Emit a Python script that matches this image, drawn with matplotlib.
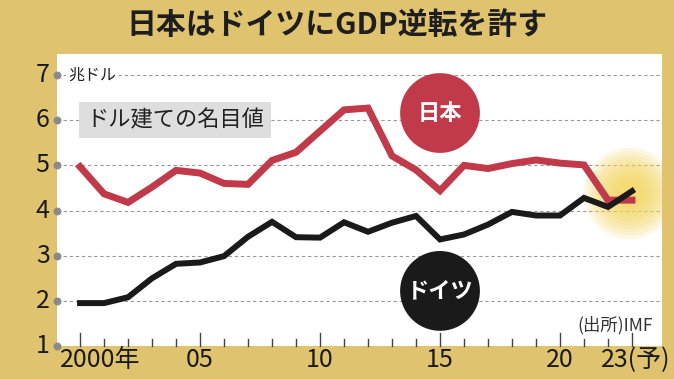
import numpy as np
import matplotlib
matplotlib.use('Agg')
import matplotlib.pyplot as plt
import matplotlib.transforms as mtransforms

plt.rcParams['font.family'] = ['Noto Sans CJK JP', 'DejaVu Sans']

years = list(range(2000, 2024))
japan = [4.97, 4.37, 4.18, 4.52, 4.89, 4.83, 4.60, 4.58, 5.11, 5.29, 5.76, 6.23,
         6.27, 5.21, 4.90, 4.44, 5.00, 4.93, 5.04, 5.12, 5.05, 5.01, 4.23, 4.23]
germany = [1.95, 1.95, 2.08, 2.50, 2.82, 2.85, 2.99, 3.42, 3.75, 3.41, 3.40, 3.74,
           3.53, 3.73, 3.88, 3.36, 3.47, 3.69, 3.97, 3.89, 3.89, 4.28, 4.08, 4.43]
y_ticks = [1, 2, 3, 4, 5, 6, 7]
x_major = [2000, 2005, 2010, 2015, 2020, 2023]
x_labels = ['2000年', '05', '10', '15', '20', '23(予)']

GOLD = '#DFC36F'
RED = '#C03A4A'
BLACK = '#1A1A1A'
NUM_FONT = ['Liberation Sans Narrow', 'Noto Sans CJK JP', 'DejaVu Sans']

fig = plt.figure(figsize=(6.74, 3.79), dpi=100, facecolor=GOLD)
ax = fig.add_axes([57 / 674, 33 / 379, 605 / 674, 292 / 379])
ax.set_facecolor('white')
ax.set_xlim(1999.04, 2024.25)
ax.set_ylim(1, 7.467)
for s in ax.spines.values():
    s.set_visible(False)
ax.set_xticks([])
ax.set_yticks([])

# grid lines
for y in y_ticks[1:]:
    ax.axhline(y, color='#999999', lw=0.8, ls=(0, (3, 2.5)), zorder=1)

# grey dots at left edge + y labels
ax.scatter([ax.get_xlim()[0]] * len(y_ticks), y_ticks, s=22, color='#8A8A8A',
           clip_on=False, zorder=5)
ytrans = mtransforms.blended_transform_factory(ax.transAxes, ax.transData)
for y in y_ticks:
    ax.text(-0.012, y, str(y), transform=ytrans, ha='right', va='center',
            fontsize=18, color=BLACK, family=NUM_FONT)

# x ticks inside bottom
xtrans = mtransforms.blended_transform_factory(ax.transData, ax.transAxes)
for yr in years:
    h = 0.045 if yr in x_major else 0.025
    ax.plot([yr, yr], [0, h], transform=xtrans, color='#444444', lw=1.0,
            clip_on=False, zorder=2)
for yr, lab in zip(x_major, x_labels):
    if yr == 2000:
        ax.text(1999.17, -0.048, lab, transform=xtrans, ha='left', va='center',
                fontsize=18, color=BLACK, family=NUM_FONT)
    else:
        ax.text(yr + (0.15 if yr == 2023 else 0), -0.048, lab, transform=xtrans,
                ha='center', va='center', fontsize=18, color=BLACK, family=NUM_FONT)

# yellow glow at the crossover
for d in np.linspace(66, 20, 10):
    ax.scatter([2022.9], [4.38], s=d ** 2, color='#F5D65A', alpha=0.15,
               edgecolors='none', zorder=2)

ax.plot(years, japan, color=RED, lw=5, zorder=4, solid_joinstyle='miter')
ax.plot(years, germany, color=BLACK, lw=4.3, zorder=4, solid_joinstyle='miter')

# labels
ax.scatter([2015], [6.16], s=3300, color=RED, zorder=6, edgecolors='none')
ax.text(2015, 6.16, '日本', ha='center', va='center', color='white',
        fontsize=16, fontweight='bold', zorder=7)
ax.scatter([2015], [2.22], s=3300, color=BLACK, zorder=6, edgecolors='none')
ax.text(2015, 2.22, 'ドイツ', ha='center', va='center', color='white',
        fontsize=16, fontweight='bold', zorder=7)

ax.text(1999.5, 7.0, '兆ドル', ha='left', va='center', fontsize=11.5, color='#222222',
        bbox=dict(facecolor='white', edgecolor='none', pad=1.5), zorder=3)
ax.text(2000.25, 6.0, 'ドル建ての名目値', ha='left', va='center', fontsize=16,
        color='#222222', zorder=3,
        bbox=dict(facecolor='#DEDEDE', edgecolor='none', boxstyle='square,pad=0.3'))
ax.text(0.985, 0.072, '(出所)IMF', transform=ax.transAxes, ha='right', va='center',
        fontsize=12.5, color='#333333', family=NUM_FONT[1:])

fig.text(0.5, 0.935, '日本はドイツにGDP逆転を許す', ha='center', va='center',
         fontsize=21.5, fontweight='bold', color='#1E1E1E')

fig.savefig('out.png', dpi=100, facecolor=GOLD)
